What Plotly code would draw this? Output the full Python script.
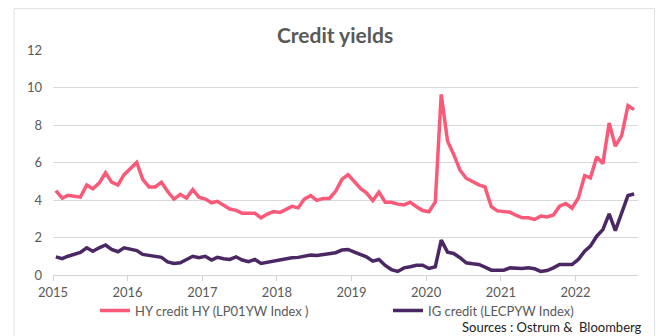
import plotly.graph_objects as go

# Monthly observations, Jan 2015 .. Oct 2022
years = [2015, 2016, 2017, 2018, 2019, 2020, 2021, 2022]
months = [f"{y}-{m:02d}-15" for y in years for m in range(1, 13)][:94]

hy_yield = [
    4.5, 4.1, 4.25, 4.2, 4.15, 4.8, 4.6, 4.9, 5.45, 4.95, 4.8, 5.35,
    5.65, 6.0, 5.1, 4.7, 4.7, 4.95, 4.45, 4.05, 4.3, 4.1, 4.55, 4.15,
    4.05, 3.85, 3.93, 3.7, 3.52, 3.45, 3.3, 3.3, 3.3, 3.05, 3.25, 3.38,
    3.33, 3.5, 3.66, 3.58, 4.05, 4.23, 3.98, 4.08, 4.08, 4.46, 5.1, 5.35,
    4.95, 4.6, 4.38, 3.97, 4.42, 3.88, 3.88, 3.78, 3.74, 3.88, 3.64, 3.44,
    3.37, 3.9, 9.63, 7.14, 6.43, 5.59, 5.16, 4.97, 4.81, 4.7, 3.64, 3.42,
    3.39, 3.35, 3.19, 3.05, 3.05, 2.96, 3.14, 3.1, 3.2, 3.67, 3.81, 3.56,
    4.11, 5.3, 5.18, 6.3, 5.94, 8.11, 6.87, 7.43, 9.03, 8.82,
]

ig_yield = [
    0.97, 0.87, 1.0, 1.1, 1.2, 1.45, 1.27, 1.45, 1.6, 1.36, 1.24, 1.45,
    1.36, 1.3, 1.1, 1.06, 1.0, 0.94, 0.7, 0.62, 0.65, 0.8, 1.0, 0.92,
    1.0, 0.8, 0.94, 0.87, 0.83, 0.97, 0.8, 0.71, 0.83, 0.62, 0.69, 0.76,
    0.83, 0.88, 0.92, 0.94, 1.0, 1.06, 1.04, 1.08, 1.13, 1.19, 1.33, 1.36,
    1.22, 1.09, 0.97, 0.74, 0.83, 0.51, 0.29, 0.19, 0.38, 0.44, 0.52, 0.52,
    0.35, 0.44, 1.86, 1.22, 1.15, 0.92, 0.65, 0.6, 0.56, 0.42, 0.26, 0.26,
    0.26, 0.38, 0.35, 0.35, 0.38, 0.33, 0.19, 0.24, 0.38, 0.56, 0.56, 0.56,
    0.83, 1.27, 1.54, 2.07, 2.42, 3.26, 2.37, 3.35, 4.24, 4.32,
]

series_names = ["HY credit HY (LP01YW Index )", "IG credit (LECPYW Index)"]
y_ticks = [0, 2, 4, 6, 8, 10, 12]
x_ticks = [f"{y}-01-01" for y in years]
x_labels = [str(y) for y in years]

FONT = "Lato"
GREY = "#595959"

fig = go.Figure()
fig.add_trace(go.Scatter(x=months, y=hy_yield, mode="lines", name=series_names[0],
                         line=dict(color="#FA5A78", width=3.5), legend="legend"))
fig.add_trace(go.Scatter(x=months, y=ig_yield, mode="lines", name=series_names[1],
                         line=dict(color="#4B2864", width=3.5), legend="legend2"))

L, R, T, B = 53, 18, 50, 60.5
leg_common = dict(orientation="h", xref="container", yref="container",
                  xanchor="left", y=1 - 310.5 / 336, yanchor="middle",
                  font=dict(family=FONT, size=13, color=GREY),
                  bgcolor="rgba(0,0,0,0)", borderwidth=0)
fig.update_layout(
    width=656, height=336,
    margin=dict(l=L, r=R, t=T, b=B, autoexpand=False),
    paper_bgcolor="white", plot_bgcolor="white",
    font=dict(family=FONT, color=GREY, size=13),
    title=dict(text="<b>Credit yields</b>", x=335 / 656, xanchor="center",
               y=1 - 36 / 336, yanchor="middle",
               font=dict(family=FONT, size=21, color=GREY)),
    showlegend=True,
    legend=dict(x=95 / 656, **leg_common),
    legend2=dict(x=388 / 656, **leg_common),
    xaxis=dict(range=["2015-01-01", "2022-11-03"], tickvals=x_ticks, ticktext=x_labels,
               showgrid=False, showline=True, linecolor="#d4d4d4", linewidth=1,
               ticks="outside", ticklen=5, tickcolor="#d4d4d4",
               tickfont=dict(family=FONT, size=13, color=GREY), zeroline=False),
    yaxis=dict(range=[0, 12], tickvals=y_ticks, showgrid=True, gridcolor="#d9d9d9",
               gridwidth=1, zeroline=False, showline=False, ticks="",
               ticklabelstandoff=10,
               tickfont=dict(family=FONT, size=13, color=GREY)),
)

pw = 656 - L - R
ph = 336 - T - B
def px_x(x):
    return (x - L) / pw
def px_y(y):
    return (336 - B - y) / ph

fig.add_shape(type="rect", xref="paper", yref="paper",
              x0=px_x(14), x1=px_x(654.5), y0=px_y(345), y1=px_y(8.5),
              line=dict(color="#e0e0e0", width=1), fillcolor="rgba(0,0,0,0)", layer="below")

fig.add_annotation(text="Sources : Ostrum &  Bloomberg", xref="paper", yref="paper",
                   x=px_x(644), xanchor="right", y=px_y(328), yanchor="middle",
                   showarrow=False, font=dict(family=FONT, size=13, color="#222222"))

fig.write_html("out.html", config={"displayModeBar": False})
